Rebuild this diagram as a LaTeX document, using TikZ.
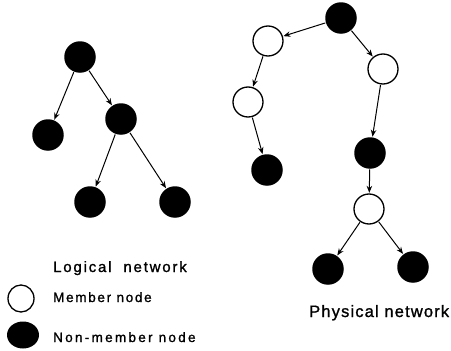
\documentclass[tikz,border=0pt]{standalone}
\usepackage{fontspec}
\setmainfont{Liberation Sans}
\newfontfamily\labA[LetterSpace=12,FakeBold=1.2]{Liberation Sans}
\newfontfamily\labB[LetterSpace=7,FakeBold=1.2]{Liberation Sans}
\newfontfamily\labC[LetterSpace=12.5,FakeBold=1.2]{Liberation Sans}
\newfontfamily\labD[LetterSpace=17,FakeBold=1.2]{Liberation Sans}
\usetikzlibrary{arrows.meta,shapes.geometric}
\begin{document}
\begin{tikzpicture}[x=1pt,y=-1pt,
  mem/.style={circle,draw=black,line width=1.3pt,fill=white,minimum size=30pt,inner sep=0pt},
  non/.style={circle,fill=black,minimum size=31.5pt,inner sep=0pt},
  arr/.style={line width=1pt,-{Stealth[length=7pt,width=5.5pt]},shorten <=0.5pt,shorten >=0.5pt},
  lbl/.style={anchor=base west,inner sep=0pt}]
\useasboundingbox (0,0) rectangle (451,351);
% logical network
\node[non] (a) at (80,57) {};
\node[non] (b) at (48,135) {};
\node[non] (c) at (121,119) {};
\node[non] (d) at (90,202) {};
\node[non] (e) at (175,202) {};
\draw[arr] (a) -- (b);
\draw[arr] (a) -- (c);
\draw[arr] (c) -- (d);
\draw[arr] (c) -- (e);
% physical network
\node[non] (p0) at (341,18) {};
\node[mem] (p1) at (268,41) {};
\node[mem] (p2) at (383,69) {};
\node[mem] (p3) at (248,102) {};
\node[non] (p4) at (267,170) {};
\node[non] (p5) at (370,153) {};
\node[mem] (p6) at (369,209) {};
\node[non] (p7) at (328,269) {};
\node[non] (p8) at (413,267) {};
\draw[arr] (p0) -- (p1);
\draw[arr] (p0) -- (p2);
\draw[arr] (p1) -- (p3);
\draw[arr] (p3) -- (p4);
\draw[arr] (p2) -- (p5);
\draw[arr] (p5) -- (p6);
\draw[arr] (p6) -- (p7);
\draw[arr] (p6) -- (p8);
% labels
\node[lbl] (ln) at (53,272) {\fontsize{15}{18}\labA Logical\ \ network};
\node[lbl] (pn) at (309,317) {\fontsize{16.5}{19}\labB Physical network};
% legend
\node[draw=black,line width=1.3pt,ellipse,minimum width=26pt,minimum height=27pt,inner sep=0pt] (lm) at (21,298.5) {};
\node[fill=black,ellipse,minimum width=32pt,minimum height=27pt,inner sep=0pt] (lnm) at (23,335) {};
\node[lbl] (tm) at (53,302) {\fontsize{13.5}{16}\labC Member node};
\node[lbl] (tnm) at (53,342) {\fontsize{13.5}{16}\labD Non-member node};
\end{tikzpicture}
\end{document}
